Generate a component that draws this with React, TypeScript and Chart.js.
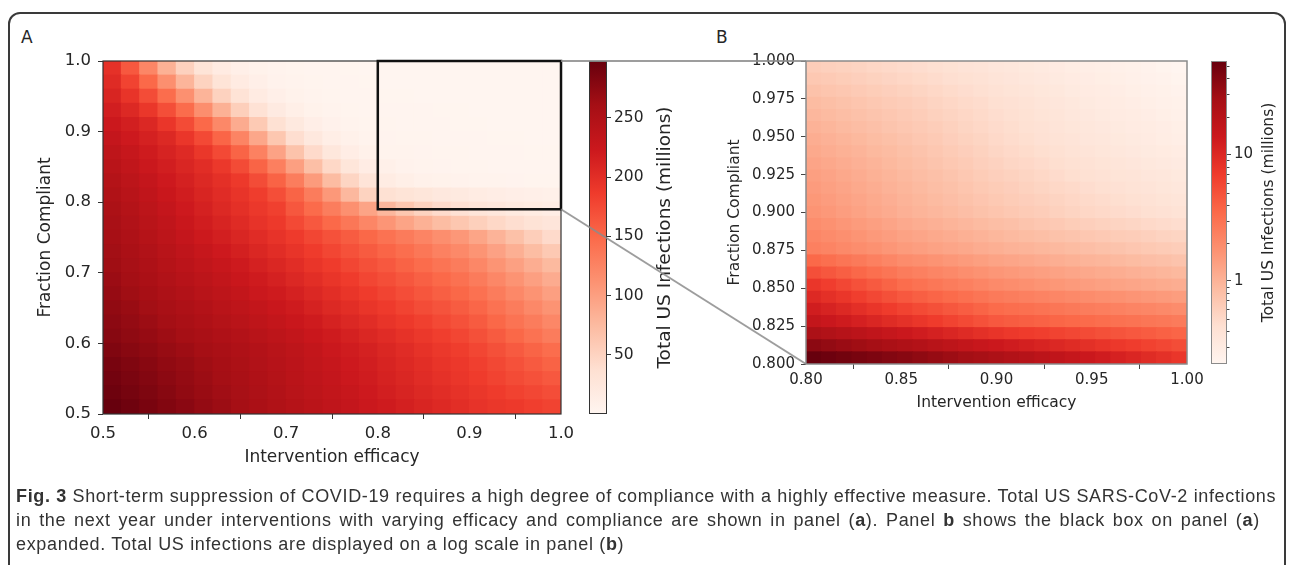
import React, { useEffect, useRef } from "react";
import { Chart, registerables } from "chart.js";

Chart.register(...registerables);

// ---------------- data: total US infections (millions) ----------------
// Panel A: 25 x 25 cells, rows from top (compliance 0.99) to bottom (0.51)
const A_EFFICACY = [0.51, 0.53, 0.55, 0.57, 0.59, 0.61, 0.63, 0.65, 0.67, 0.69, 0.71, 0.73, 0.75, 0.77, 0.79, 0.81, 0.83, 0.85, 0.87, 0.89, 0.91, 0.93, 0.95, 0.97, 0.99];
const A_COMPLIANCE = [0.99, 0.97, 0.95, 0.93, 0.91, 0.89, 0.87, 0.85, 0.83, 0.81, 0.79, 0.77, 0.75, 0.73, 0.71, 0.69, 0.67, 0.65, 0.63, 0.61, 0.59, 0.57, 0.55, 0.53, 0.51];
const A_INFECTIONS = [
  [197, 163, 123, 84, 53, 31, 18, 10.2, 6, 3.6, 2.4, 1.7, 1.3, 1, 0.8, 0.62, 0.55, 0.5, 0.45, 0.41, 0.37, 0.33, 0.29, 0.26, 0.23],
  [203, 180, 150, 115, 80, 51, 31, 17.5, 10, 5.7, 3.4, 2.2, 1.6, 1.25, 1, 0.8, 0.72, 0.65, 0.58, 0.52, 0.47, 0.42, 0.37, 0.33, 0.29],
  [210, 194, 173, 146, 114, 81, 52, 32, 18, 10.2, 5.9, 3.5, 2.3, 1.7, 1.3, 1.05, 0.93, 0.83, 0.73, 0.64, 0.56, 0.48, 0.41, 0.35, 0.3],
  [217, 206, 191, 171, 147, 116, 84, 55, 34, 19.4, 11, 6.2, 3.6, 2.3, 1.7, 1.5, 1.3, 1.15, 1, 0.88, 0.77, 0.67, 0.58, 0.5, 0.43],
  [224, 216, 207, 192, 174, 150, 121, 89, 60, 36.5, 21, 11.8, 6.8, 4, 2.8, 2.1, 1.75, 1.5, 1.25, 1.05, 0.88, 0.75, 0.63, 0.53, 0.45],
  [230, 222, 214, 206, 192, 175, 153, 125, 93, 63, 39, 23, 12.7, 7.2, 4.3, 3.2, 2.6, 2.2, 1.85, 1.55, 1.3, 1.1, 0.95, 0.8, 0.68],
  [236, 228, 220, 212, 204, 191, 175, 154, 128, 97, 67, 43, 25, 14.3, 8.1, 4.5, 3.6, 3, 2.5, 2.1, 1.8, 1.5, 1.3, 1.1, 0.95],
  [241, 233, 225, 217, 209, 201, 190, 174, 154, 130, 100, 71, 46, 27, 15.6, 8.7, 5.5, 4.2, 3.3, 2.7, 2.3, 2, 1.75, 1.55, 1.35],
  [246, 238, 230, 222, 214, 206, 198, 188, 173, 155, 131, 104, 74, 49, 29.5, 16, 11, 8, 6.3, 5, 4.2, 3.6, 3.2, 2.8, 2.4],
  [250, 242, 234, 226, 218, 210, 202, 194, 185, 171, 154, 132, 106, 77, 51, 36, 31, 27, 23, 19.5, 16.5, 14, 12, 10, 8.6],
  [254, 246, 238, 230, 222, 214, 206, 198, 190, 182, 164, 148, 131, 114, 96, 78, 63, 51, 42, 35, 29, 24.5, 20.5, 17, 14],
  [257, 249, 241, 234, 226, 218, 211, 203, 195, 188, 175, 163, 150, 137, 123, 109, 96, 84, 73, 63, 54, 46, 39, 33, 28],
  [259, 252, 245, 238, 230, 223, 216, 209, 202, 195, 187, 178, 169, 160, 151, 142, 133, 125, 116, 107, 95, 82, 69, 56, 43],
  [262, 255, 249, 242, 235, 228, 222, 215, 208, 201, 194, 186, 178, 169, 161, 153, 145, 137, 128, 120, 110, 98, 86, 73, 61],
  [264, 258, 252, 245, 239, 233, 227, 221, 214, 208, 201, 193, 186, 178, 170, 163, 155, 147, 140, 132, 122, 110, 99, 87, 76],
  [267, 261, 255, 249, 243, 238, 232, 226, 220, 214, 207, 200, 193, 186, 178, 171, 164, 157, 150, 143, 133, 122, 111, 100, 89],
  [270, 264, 259, 253, 248, 242, 237, 231, 225, 220, 214, 207, 200, 193, 186, 179, 172, 165, 158, 151, 143, 132, 121, 111, 100],
  [273, 268, 262, 257, 252, 247, 241, 236, 231, 226, 220, 213, 206, 200, 193, 187, 180, 173, 167, 160, 152, 142, 132, 121, 111],
  [276, 271, 266, 261, 256, 251, 246, 241, 236, 231, 226, 220, 213, 207, 201, 194, 188, 182, 175, 169, 161, 151, 141, 132, 122],
  [279, 274, 270, 265, 260, 256, 251, 247, 242, 237, 232, 226, 220, 214, 208, 202, 196, 190, 184, 178, 170, 161, 151, 142, 132],
  [283, 278, 274, 269, 265, 260, 256, 251, 247, 242, 237, 231, 225, 219, 214, 208, 202, 196, 190, 185, 178, 170, 162, 154, 146],
  [288, 283, 278, 273, 269, 264, 259, 254, 249, 244, 239, 233, 228, 222, 217, 211, 205, 200, 194, 189, 183, 176, 169, 162, 155],
  [291, 286, 281, 276, 271, 266, 261, 256, 251, 246, 240, 235, 230, 224, 219, 213, 208, 202, 197, 192, 186, 180, 174, 169, 163],
  [294, 289, 284, 279, 273, 268, 263, 258, 253, 248, 242, 237, 232, 227, 222, 216, 211, 206, 201, 196, 191, 186, 181, 177, 172],
  [298, 293, 287, 282, 277, 271, 266, 260, 255, 250, 245, 240, 235, 230, 225, 220, 215, 210, 205, 200, 195, 191, 188, 184, 180],
];
const A_X_TICKS = [0.5, 0.6, 0.7, 0.8, 0.9, 1.0];
const A_Y_TICKS = [0.5, 0.6, 0.7, 0.8, 0.9, 1.0];
const A_COLORBAR_TICKS = [50, 100, 150, 200, 250];
const A_BOX_EFFICACY = [0.8, 1.0];
const A_BOX_COMPLIANCE = [0.79, 1.0];

// Panel B: 25 x 25 cells, rows from top (compliance 0.996) to bottom (0.804)
const B_EFFICACY = [0.804, 0.812, 0.82, 0.828, 0.836, 0.844, 0.852, 0.86, 0.868, 0.876, 0.884, 0.892, 0.9, 0.908, 0.916, 0.924, 0.932, 0.94, 0.948, 0.956, 0.964, 0.972, 0.98, 0.988, 0.996];
const B_COMPLIANCE = [0.996, 0.988, 0.98, 0.972, 0.964, 0.956, 0.948, 0.94, 0.932, 0.924, 0.916, 0.908, 0.9, 0.892, 0.884, 0.876, 0.868, 0.86, 0.852, 0.844, 0.836, 0.828, 0.82, 0.812, 0.804];
const B_INFECTIONS = [
  [0.62, 0.59, 0.57, 0.55, 0.52, 0.5, 0.48, 0.46, 0.44, 0.415, 0.395, 0.38, 0.36, 0.345, 0.33, 0.32, 0.305, 0.29, 0.28, 0.27, 0.26, 0.25, 0.24, 0.23, 0.22],
  [0.69, 0.66, 0.63, 0.6, 0.57, 0.545, 0.52, 0.495, 0.47, 0.447, 0.425, 0.405, 0.385, 0.368, 0.352, 0.336, 0.321, 0.307, 0.293, 0.281, 0.27, 0.259, 0.249, 0.239, 0.23],
  [0.77, 0.73, 0.7, 0.66, 0.63, 0.6, 0.57, 0.54, 0.51, 0.485, 0.46, 0.435, 0.41, 0.39, 0.372, 0.354, 0.337, 0.321, 0.306, 0.294, 0.282, 0.271, 0.26, 0.25, 0.24],
  [0.86, 0.81, 0.77, 0.73, 0.69, 0.65, 0.62, 0.59, 0.55, 0.52, 0.49, 0.47, 0.44, 0.42, 0.4, 0.375, 0.355, 0.34, 0.32, 0.307, 0.295, 0.283, 0.272, 0.261, 0.25],
  [0.93, 0.88, 0.83, 0.78, 0.74, 0.7, 0.66, 0.62, 0.585, 0.55, 0.52, 0.49, 0.46, 0.435, 0.415, 0.39, 0.37, 0.35, 0.333, 0.32, 0.307, 0.295, 0.283, 0.271, 0.26],
  [1.01, 0.95, 0.89, 0.84, 0.79, 0.74, 0.7, 0.66, 0.62, 0.58, 0.54, 0.51, 0.48, 0.455, 0.43, 0.41, 0.385, 0.365, 0.346, 0.332, 0.319, 0.306, 0.294, 0.282, 0.27],
  [1.1, 1.03, 0.97, 0.91, 0.85, 0.8, 0.75, 0.7, 0.66, 0.61, 0.57, 0.54, 0.5, 0.47, 0.45, 0.42, 0.4, 0.38, 0.36, 0.345, 0.33, 0.32, 0.305, 0.29, 0.28],
  [1.19, 1.11, 1.04, 0.98, 0.91, 0.86, 0.8, 0.75, 0.7, 0.65, 0.61, 0.57, 0.53, 0.5, 0.475, 0.45, 0.425, 0.4, 0.38, 0.365, 0.35, 0.335, 0.32, 0.308, 0.296],
  [1.29, 1.2, 1.12, 1.05, 0.98, 0.91, 0.85, 0.79, 0.74, 0.69, 0.65, 0.6, 0.565, 0.53, 0.505, 0.48, 0.45, 0.43, 0.405, 0.39, 0.37, 0.355, 0.34, 0.327, 0.313],
  [1.4, 1.3, 1.21, 1.12, 1.04, 0.97, 0.9, 0.84, 0.79, 0.74, 0.69, 0.64, 0.6, 0.57, 0.54, 0.51, 0.48, 0.45, 0.43, 0.41, 0.39, 0.38, 0.36, 0.345, 0.33],
  [1.49, 1.38, 1.28, 1.19, 1.1, 1.02, 0.95, 0.89, 0.83, 0.78, 0.73, 0.68, 0.64, 0.61, 0.57, 0.54, 0.51, 0.49, 0.46, 0.44, 0.42, 0.4, 0.38, 0.365, 0.35],
  [1.59, 1.47, 1.36, 1.26, 1.17, 1.08, 1, 0.94, 0.88, 0.82, 0.77, 0.72, 0.68, 0.64, 0.61, 0.58, 0.55, 0.52, 0.49, 0.47, 0.45, 0.43, 0.41, 0.39, 0.375],
  [1.7, 1.57, 1.45, 1.34, 1.23, 1.14, 1.05, 0.99, 0.93, 0.87, 0.82, 0.77, 0.73, 0.69, 0.65, 0.62, 0.58, 0.55, 0.52, 0.5, 0.48, 0.46, 0.44, 0.42, 0.4],
  [1.91, 1.76, 1.63, 1.5, 1.39, 1.28, 1.18, 1.11, 1.05, 0.99, 0.93, 0.88, 0.83, 0.79, 0.74, 0.7, 0.67, 0.63, 0.6, 0.57, 0.55, 0.53, 0.5, 0.48, 0.46],
  [2.14, 1.98, 1.83, 1.69, 1.56, 1.44, 1.33, 1.26, 1.19, 1.12, 1.06, 1, 0.94, 0.89, 0.85, 0.81, 0.77, 0.74, 0.7, 0.67, 0.64, 0.62, 0.59, 0.56, 0.54],
  [2.4, 2.22, 2.05, 1.9, 1.76, 1.62, 1.5, 1.42, 1.34, 1.27, 1.2, 1.13, 1.07, 1.02, 0.98, 0.94, 0.9, 0.86, 0.82, 0.78, 0.75, 0.71, 0.68, 0.65, 0.62],
  [3.54, 3.2, 2.9, 2.63, 2.38, 2.15, 1.95, 1.83, 1.71, 1.6, 1.5, 1.41, 1.32, 1.26, 1.2, 1.14, 1.09, 1.04, 0.99, 0.95, 0.9, 0.86, 0.82, 0.79, 0.75],
  [5.2, 4.6, 4.1, 3.6, 3.2, 2.86, 2.54, 2.36, 2.19, 2.03, 1.88, 1.75, 1.62, 1.54, 1.47, 1.4, 1.33, 1.26, 1.2, 1.15, 1.1, 1.05, 1, 0.95, 0.91],
  [7.7, 6.7, 5.8, 5, 4.4, 3.8, 3.3, 3.04, 2.79, 2.57, 2.36, 2.17, 2, 1.9, 1.8, 1.7, 1.61, 1.53, 1.45, 1.38, 1.32, 1.26, 1.2, 1.15, 1.1],
  [9.8, 8.6, 7.6, 6.6, 5.8, 5.1, 4.5, 4.1, 3.76, 3.44, 3.14, 2.87, 2.62, 2.49, 2.37, 2.25, 2.14, 2.03, 1.93, 1.84, 1.76, 1.68, 1.6, 1.53, 1.46],
  [12.5, 11.1, 9.9, 8.8, 7.8, 7, 6.2, 5.6, 5.1, 4.6, 4.2, 3.8, 3.43, 3.27, 3.11, 2.96, 2.82, 2.69, 2.56, 2.45, 2.34, 2.23, 2.14, 2.04, 1.95],
  [16, 14.4, 13, 11.7, 10.5, 9.4, 8.5, 7.6, 6.9, 6.2, 5.6, 5, 4.5, 4.3, 4.1, 3.9, 3.7, 3.55, 3.4, 3.25, 3.1, 2.97, 2.84, 2.72, 2.6],
  [24.1, 22, 20.1, 18.4, 16.8, 15.3, 14, 12.7, 11.6, 10.5, 9.6, 8.7, 7.9, 7.4, 7, 6.6, 6.2, 5.8, 5.45, 5.1, 4.8, 4.5, 4.25, 3.98, 3.73],
  [36.4, 33.7, 31.3, 29, 26.9, 24.9, 23.1, 21.2, 19.4, 17.8, 16.3, 15, 13.7, 12.7, 11.8, 10.9, 10.1, 9.4, 8.7, 8, 7.4, 6.8, 6.3, 5.8, 5.36],
  [55, 51.7, 48.6, 45.7, 43, 40.4, 38, 35.2, 32.6, 30.2, 27.9, 25.9, 24, 21.9, 20.1, 18.3, 16.8, 15.3, 14, 12.7, 11.5, 10.4, 9.4, 8.5, 7.7],
];
const B_X_TICKS = [0.8, 0.85, 0.9, 0.95, 1.0];
const B_Y_TICKS = [0.8, 0.825, 0.85, 0.875, 0.9, 0.925, 0.95, 0.975, 1.0];
const B_COLORBAR_TICKS = [1, 10];
const B_COLORBAR_MINOR_TICKS = [0.3, 0.4, 0.5, 0.6, 0.7, 0.8, 0.9, 2, 3, 4, 5, 6, 7, 8, 9, 20, 30, 40, 50];

// ---------------- styling ----------------
const FONT = "'DejaVu Sans', sans-serif";
const TEXT = "#262626";
const REDS = ["#fff5f0", "#fee0d2", "#fcbba1", "#fc9272", "#fb6a4a", "#ef3b2c", "#cb181d", "#a50f15", "#67000d"];
const REDS_RGB = REDS.map((h) => {
  const n = parseInt(h.slice(1), 16);
  return [(n >> 16) & 255, (n >> 8) & 255, n & 255];
});
function reds(t: number): string {
  const u = Math.max(0, Math.min(1, t)) * (REDS_RGB.length - 1);
  const i = Math.min(REDS_RGB.length - 2, Math.floor(u));
  const f = u - i;
  const a = REDS_RGB[i];
  const b = REDS_RGB[i + 1];
  return `rgb(${Math.round(a[0] + (b[0] - a[0]) * f)},${Math.round(a[1] + (b[1] - a[1]) * f)},${Math.round(a[2] + (b[2] - a[2]) * f)})`;
}

const L = {
  A: { left: 30, top: 40, width: 545, height: 432, yAxisW: 73, xAxisH: 58, padTop: 21, padRight: 14 },
  CA: { left: 580, top: 40, width: 110, height: 400, padLeft: 9, padTop: 21, padBottom: 26, axisW: 83 },
  B: { left: 716, top: 40, width: 500, height: 377, yAxisW: 90, xAxisH: 53, padTop: 21, padRight: 29 },
  CB: { left: 1202, top: 40, width: 90, height: 340, padLeft: 9, padTop: 21, padBottom: 16, axisW: 65 },
};

const A_FLAT = A_INFECTIONS.flat();
const A_MIN = Math.min(...A_FLAT);
const A_MAX = Math.max(...A_FLAT);
const B_FLAT = B_INFECTIONS.flat();
const B_MIN = Math.min(...B_FLAT);
const B_MAX = Math.max(...B_FLAT);
const normA = (v: number) => (v - A_MIN) / (A_MAX - A_MIN);
const normB = (v: number) => (Math.log10(v) - Math.log10(B_MIN)) / (Math.log10(B_MAX) - Math.log10(B_MIN));

function framePlugin(color: string, width: number) {
  return {
    id: "frame",
    afterDatasetsDraw(chart: any) {
      const { ctx, chartArea } = chart;
      ctx.save();
      ctx.strokeStyle = color;
      ctx.lineWidth = width;
      ctx.strokeRect(chartArea.left, chartArea.top, chartArea.right - chartArea.left, chartArea.bottom - chartArea.top);
      ctx.restore();
    },
  };
}

const zoomBoxPlugin = {
  id: "zoomBox",
  afterDatasetsDraw(chart: any) {
    const { ctx, scales } = chart;
    const x0 = scales.x.getPixelForValue(A_BOX_EFFICACY[0]);
    const x1 = scales.x.getPixelForValue(A_BOX_EFFICACY[1]);
    const y0 = scales.y.getPixelForValue(A_BOX_COMPLIANCE[0]);
    const y1 = scales.y.getPixelForValue(A_BOX_COMPLIANCE[1]);
    ctx.save();
    ctx.strokeStyle = "#111";
    ctx.lineWidth = 2.5;
    ctx.strokeRect(x0, y1, x1 - x0, y0 - y1);
    ctx.restore();
  },
};

function heatmapConfig(o: any) {
  const dy = Math.abs(o.compliance[1] - o.compliance[0]) / 2;
  const cells: any[] = [];
  const colors: string[] = [];
  o.compliance.forEach((c: number, i: number) => {
    o.efficacy.forEach((e: number, j: number) => {
      cells.push({ x: e, y: [c - dy, c + dy] });
      colors.push(reds(o.norm(o.values[i][j])));
    });
  });
  const box = o.box;
  const tickFont = { family: FONT, size: o.tickSize };
  const titleFont = { family: FONT, size: o.titleSize };
  return {
    type: "bar",
    data: {
      datasets: [
        {
          data: cells,
          backgroundColor: colors,
          borderWidth: 0,
          barPercentage: 1,
          categoryPercentage: 1,
          inflateAmount: 0.5,
        },
      ],
    },
    options: {
      animation: false,
      responsive: false,
      events: [],
      layout: { padding: { top: box.padTop, right: box.padRight, left: 0, bottom: 0 } },
      plugins: { legend: { display: false }, tooltip: { enabled: false }, title: { display: false } },
      scales: {
        x: {
          type: "linear",
          min: o.xTicks[0],
          max: o.xTicks[o.xTicks.length - 1],
          bounds: "data",
          offset: false,
          afterBuildTicks: (s: any) => {
            s.ticks = o.xTicks.map((v: number) => ({ value: v }));
          },
          afterFit: (s: any) => {
            s.height = box.xAxisH;
            s.paddingLeft = 0;
            s.paddingRight = 0;
          },
          ticks: {
            callback: (v: any) => Number(v).toFixed(o.xDigits),
            font: tickFont,
            color: TEXT,
            padding: o.xTickPad,
            maxRotation: 0,
            autoSkip: false,
          },
          grid: { display: true, drawOnChartArea: false, drawTicks: true, tickLength: 5, tickColor: o.tickColor, tickWidth: 1 },
          border: { display: false },
          title: { display: true, text: "Intervention efficacy", font: titleFont, color: TEXT, padding: { top: 0, bottom: o.xTitlePad } },
        },
        y: {
          type: "linear",
          min: o.yTicks[0],
          max: o.yTicks[o.yTicks.length - 1],
          bounds: "data",
          afterBuildTicks: (s: any) => {
            s.ticks = o.yTicks.map((v: number) => ({ value: v }));
          },
          afterFit: (s: any) => {
            s.width = box.yAxisW;
            s.paddingTop = 0;
            s.paddingBottom = 0;
          },
          ticks: {
            callback: (v: any) => Number(v).toFixed(o.yDigits),
            font: tickFont,
            color: TEXT,
            padding: o.yTickPad,
            autoSkip: false,
          },
          grid: { display: true, drawOnChartArea: false, drawTicks: true, tickLength: 5, tickColor: o.tickColor, tickWidth: 1 },
          border: { display: false },
          title: { display: true, text: "Fraction Compliant", font: titleFont, color: TEXT, padding: { top: o.yTitlePad, bottom: 0 } },
        },
      },
    },
    plugins: [framePlugin(o.spine, o.spineWidth), ...(o.extraPlugins || [])],
  };
}

function colorbarConfig(o: any) {
  const box = o.box;
  const labelPlugin = {
    id: "cbLabel",
    afterDraw(chart: any) {
      const { ctx, chartArea } = chart;
      ctx.save();
      ctx.translate(chartArea.right + o.labelOffset, (chartArea.top + chartArea.bottom) / 2);
      ctx.rotate(-Math.PI / 2);
      ctx.font = `${o.labelSize}px ${FONT}`;
      ctx.fillStyle = TEXT;
      ctx.textAlign = "center";
      ctx.textBaseline = "middle";
      ctx.fillText("Total US Infections (millions)", 0, 0);
      ctx.restore();
    },
  };
  const minorPlugin = {
    id: "cbMinor",
    afterDraw(chart: any) {
      const { ctx, chartArea, scales } = chart;
      ctx.save();
      ctx.strokeStyle = o.tickColor;
      ctx.lineWidth = 1;
      (o.minor || []).forEach((v: number) => {
        const y = Math.round(scales.y.getPixelForValue(v)) + 0.5;
        ctx.beginPath();
        ctx.moveTo(chartArea.right, y);
        ctx.lineTo(chartArea.right + 2.5, y);
        ctx.stroke();
      });
      ctx.restore();
    },
  };
  return {
    type: "bar",
    data: {
      labels: [""],
      datasets: [
        {
          data: [[o.min, o.max]],
          backgroundColor: (ctx: any) => {
            const area = ctx.chart.chartArea;
            if (!area) return REDS[0];
            const g = ctx.chart.ctx.createLinearGradient(0, area.bottom, 0, area.top);
            REDS.forEach((c, i) => g.addColorStop(i / (REDS.length - 1), c));
            return g;
          },
          borderColor: o.outline,
          borderWidth: 1,
          borderSkipped: false,
          barPercentage: 1,
          categoryPercentage: 1,
          inflateAmount: 0,
        },
      ],
    },
    options: {
      animation: false,
      responsive: false,
      events: [],
      layout: { padding: { top: box.padTop, left: box.padLeft, bottom: box.padBottom, right: 0 } },
      plugins: { legend: { display: false }, tooltip: { enabled: false } },
      scales: {
        x: { display: false },
        y: {
          type: o.type,
          position: "right",
          min: o.min,
          max: o.max,
          bounds: "data",
          afterBuildTicks: (s: any) => {
            s.ticks = o.ticks.map((v: number) => ({ value: v }));
          },
          afterFit: (s: any) => {
            s.width = box.axisW;
            s.paddingTop = 0;
            s.paddingBottom = 0;
          },
          ticks: {
            callback: (v: any) => String(v),
            font: { family: FONT, size: o.tickSize },
            color: TEXT,
            padding: 3,
            autoSkip: false,
          },
          grid: { display: true, drawOnChartArea: false, drawTicks: true, tickLength: 4, tickColor: o.tickColor },
          border: { display: false },
        },
      },
    },
    plugins: [labelPlugin, minorPlugin],
  };
}

export default function App() {
  const aRef = useRef<HTMLCanvasElement>(null);
  const caRef = useRef<HTMLCanvasElement>(null);
  const bRef = useRef<HTMLCanvasElement>(null);
  const cbRef = useRef<HTMLCanvasElement>(null);
  const ovRef = useRef<HTMLCanvasElement>(null);

  useEffect(() => {
    const charts: Chart[] = [];
    const a = new Chart(
      aRef.current as HTMLCanvasElement,
      heatmapConfig({
        efficacy: A_EFFICACY,
        compliance: A_COMPLIANCE,
        values: A_INFECTIONS,
        norm: normA,
        xTicks: A_X_TICKS,
        yTicks: A_Y_TICKS,
        xDigits: 1,
        yDigits: 1,
        box: L.A,
        tickSize: 16.5,
        titleSize: 17,
        xTickPad: 5,
        yTickPad: 7,
        xTitlePad: 4,
        yTitlePad: 5,
        tickColor: "#333",
        spine: "#333",
        spineWidth: 1.2,
        extraPlugins: [zoomBoxPlugin],
      }) as any
    );
    charts.push(a);
    const ca = new Chart(
      caRef.current as HTMLCanvasElement,
      colorbarConfig({
        box: L.CA,
        type: "linear",
        min: A_MIN,
        max: A_MAX,
        ticks: A_COLORBAR_TICKS,
        tickSize: 15.5,
        labelSize: 18.5,
        labelOffset: 58,
        outline: "#333",
        tickColor: "#333",
      }) as any
    );
    charts.push(ca);
    const b = new Chart(
      bRef.current as HTMLCanvasElement,
      heatmapConfig({
        efficacy: B_EFFICACY,
        compliance: B_COMPLIANCE,
        values: B_INFECTIONS,
        norm: normB,
        xTicks: B_X_TICKS,
        yTicks: B_Y_TICKS,
        xDigits: 2,
        yDigits: 3,
        box: L.B,
        tickSize: 15,
        titleSize: 15.5,
        xTickPad: 2,
        yTickPad: 6,
        xTitlePad: 5,
        yTitlePad: 10,
        tickColor: "#444",
        spine: "#8a8a8a",
        spineWidth: 1.5,
      }) as any
    );
    charts.push(b);
    const cb = new Chart(
      cbRef.current as HTMLCanvasElement,
      colorbarConfig({
        box: L.CB,
        type: "logarithmic",
        min: B_MIN,
        max: B_MAX,
        ticks: B_COLORBAR_TICKS,
        minor: B_COLORBAR_MINOR_TICKS,
        tickSize: 15,
        labelSize: 15.5,
        labelOffset: 42,
        outline: "#8a8a8a",
        tickColor: "#444",
      }) as any
    );
    charts.push(cb);

    // connector lines from the zoom box of panel A to panel B
    const ov = ovRef.current as HTMLCanvasElement;
    const ctx = ov.getContext("2d") as CanvasRenderingContext2D;
    ctx.clearRect(0, 0, ov.width, ov.height);
    const ax: any = (a as any).scales.x;
    const ay: any = (a as any).scales.y;
    const bx: any = (b as any).scales.x;
    const by: any = (b as any).scales.y;
    const segs = [
      [
        [L.A.left + ax.getPixelForValue(A_BOX_EFFICACY[1]), L.A.top + ay.getPixelForValue(A_BOX_COMPLIANCE[1])],
        [L.B.left + bx.getPixelForValue(B_X_TICKS[0]), L.B.top + by.getPixelForValue(B_Y_TICKS[B_Y_TICKS.length - 1])],
      ],
      [
        [L.A.left + ax.getPixelForValue(A_BOX_EFFICACY[1]), L.A.top + ay.getPixelForValue(A_BOX_COMPLIANCE[0])],
        [L.B.left + bx.getPixelForValue(B_X_TICKS[0]), L.B.top + by.getPixelForValue(B_Y_TICKS[0])],
      ],
    ];
    ctx.strokeStyle = "rgba(140,140,140,0.85)";
    ctx.lineWidth = 2;
    segs.forEach(([p, q]) => {
      ctx.beginPath();
      ctx.moveTo(p[0], p[1]);
      ctx.lineTo(q[0], q[1]);
      ctx.stroke();
    });

    return () => {
      charts.forEach((c) => c.destroy());
    };
  }, []);

  const abs = (b: any): React.CSSProperties => ({ position: "absolute", left: b.left, top: b.top, width: b.width, height: b.height });

  return (
    <div style={{ position: "absolute", left: 0, top: 0, width: 1292, height: 565, overflow: "hidden", background: "#fff" }}>
      <div
        style={{
          position: "absolute",
          left: 8,
          top: 12,
          width: 1278,
          height: 640,
          border: "2px solid #3a3a3a",
          borderRadius: 12,
          boxSizing: "border-box",
        }}
      />
      <div style={{ position: "absolute", left: 21, top: 27, fontFamily: FONT, fontSize: 17, lineHeight: "20px", color: TEXT }}>A</div>
      <div style={{ position: "absolute", left: 716, top: 27, fontFamily: FONT, fontSize: 17, lineHeight: "20px", color: TEXT }}>B</div>
      <canvas ref={aRef} width={L.A.width} height={L.A.height} style={abs(L.A)} />
      <canvas ref={caRef} width={L.CA.width} height={L.CA.height} style={abs(L.CA)} />
      <canvas ref={bRef} width={L.B.width} height={L.B.height} style={abs(L.B)} />
      <canvas ref={cbRef} width={L.CB.width} height={L.CB.height} style={abs(L.CB)} />
      <canvas ref={ovRef} width={1292} height={565} style={{ position: "absolute", left: 0, top: 0, width: 1292, height: 565, pointerEvents: "none" }} />
      <div
        style={{
          position: "absolute",
          left: 16,
          top: 484,
          width: 1270,
          fontFamily: "'Liberation Sans', Arial, sans-serif",
          fontSize: 18,
          letterSpacing: "0.65px",
          lineHeight: "24px",
          color: "#333",
          whiteSpace: "nowrap",
        }}
      >
        <div>
          <b>Fig. 3</b> Short-term suppression of COVID-19 requires a high degree of compliance with a highly effective measure. Total US SARS-CoV-2 infections
        </div>
        <div style={{ wordSpacing: "2.2px" }}>
          in the next year under interventions with varying efficacy and compliance are shown in panel (<b>a</b>). Panel <b>b</b> shows the black box on panel (<b>a</b>)
        </div>
        <div>expanded. Total US infections are displayed on a log scale in panel (<b>b</b>)</div>
      </div>
    </div>
  );
}
